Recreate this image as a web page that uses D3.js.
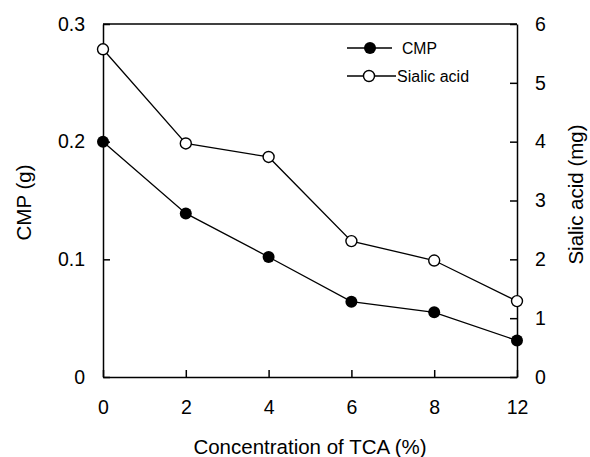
<!DOCTYPE html>
<html>
<head>
<meta charset="utf-8">
<script src="https://cdn.jsdelivr.net/npm/d3@7"></script>
<style>
  body { margin: 0; background: #fff; }
  svg { display: block; font-family: "Liberation Sans", Arial, sans-serif; }
  .axis path, .axis line { stroke: #000; stroke-width: 1.5; }
  .axis text { font-size: 19.5px; fill: #000; }
</style>
</head>
<body>
<div id="chart"></div>
<script>
// data
const categories = ['0', '2', '4', '6', '8', '12'];
const cmpValues = [0.200, 0.139, 0.102, 0.064, 0.055, 0.031];
const sialicValues = [5.57, 3.97, 3.74, 2.31, 1.98, 1.29];
const leftTicks = [0, 0.1, 0.2, 0.3];
const rightTicks = [0, 1, 2, 3, 4, 5, 6];

const width = 590, height = 457;
const margin = { top: 24, right: 73, bottom: 80, left: 103 };
const innerW = width - margin.left - margin.right;
const innerH = height - margin.top - margin.bottom;

const svg = d3.select('#chart').append('svg')
    .attr('width', width)
    .attr('height', height);

const g = svg.append('g').attr('transform', `translate(${margin.left},${margin.top})`);

const x = d3.scalePoint().domain(categories).range([0, innerW]);
const yLeft = d3.scaleLinear().domain([0, 0.3]).range([innerH, 0]);
const yRight = d3.scaleLinear().domain([0, 6]).range([innerH, 0]);

// axes, ticks pointing inward
g.append('g')
    .attr('class', 'axis')
    .call(d3.axisLeft(yLeft).tickValues(leftTicks).tickFormat(d3.format('.1~f'))
        .tickSizeInner(-7).tickSizeOuter(0).tickPadding(18));

g.append('g')
    .attr('class', 'axis')
    .attr('transform', `translate(${innerW},0)`)
    .call(d3.axisRight(yRight).tickValues(rightTicks).tickFormat(d3.format('d'))
        .tickSizeInner(-7).tickSizeOuter(0).tickPadding(18));

g.append('g')
    .attr('class', 'axis')
    .attr('transform', `translate(0,${innerH})`)
    .call(d3.axisBottom(x).tickSizeInner(-7).tickSizeOuter(0).tickPadding(23));

// top border
g.append('line')
    .attr('x1', 0).attr('x2', innerW)
    .attr('y1', 0).attr('y2', 0)
    .attr('stroke', '#000').attr('stroke-width', 1.5);

// axis titles
svg.append('text')
    .attr('x', margin.left + innerW / 2)
    .attr('y', 454)
    .attr('text-anchor', 'middle')
    .attr('font-size', '20.5px')
    .text('Concentration of TCA (%)');

svg.append('text')
    .attr('transform', `translate(31,${margin.top + innerH / 2 + 2}) rotate(-90)`)
    .attr('text-anchor', 'middle')
    .attr('font-size', '20.5px')
    .text('CMP (g)');

svg.append('text')
    .attr('transform', `translate(583,${margin.top + innerH / 2 - 6}) rotate(-90)`)
    .attr('text-anchor', 'middle')
    .attr('font-size', '20.5px')
    .text('Sialic acid (mg)');

// series
const lineCmp = d3.line().x((d, i) => x(categories[i])).y(d => yLeft(d));
const lineSialic = d3.line().x((d, i) => x(categories[i])).y(d => yRight(d));

g.append('path')
    .datum(sialicValues)
    .attr('d', lineSialic)
    .attr('fill', 'none')
    .attr('stroke', '#000')
    .attr('stroke-width', 1.3);

g.append('path')
    .datum(cmpValues)
    .attr('d', lineCmp)
    .attr('fill', 'none')
    .attr('stroke', '#000')
    .attr('stroke-width', 1.3);

g.selectAll('.pt-sialic')
    .data(sialicValues)
    .enter().append('circle')
    .attr('class', 'pt-sialic')
    .attr('cx', (d, i) => x(categories[i]))
    .attr('cy', d => yRight(d))
    .attr('r', 5.5)
    .attr('fill', '#fff')
    .attr('stroke', '#000')
    .attr('stroke-width', 1.4);

g.selectAll('.pt-cmp')
    .data(cmpValues)
    .enter().append('circle')
    .attr('class', 'pt-cmp')
    .attr('cx', (d, i) => x(categories[i]))
    .attr('cy', d => yLeft(d))
    .attr('r', 6)
    .attr('fill', '#000');

// legend
const legend = svg.append('g').attr('font-size', '16px');

legend.append('line')
    .attr('x1', 347).attr('x2', 392).attr('y1', 48).attr('y2', 48)
    .attr('stroke', '#000').attr('stroke-width', 1.5);
legend.append('circle')
    .attr('cx', 370).attr('cy', 48).attr('r', 6).attr('fill', '#000');
legend.append('text')
    .attr('x', 402).attr('y', 54)
    .attr('textLength', 35).attr('lengthAdjust', 'spacingAndGlyphs')
    .text('CMP');

legend.append('line')
    .attr('x1', 347).attr('x2', 396).attr('y1', 76).attr('y2', 76)
    .attr('stroke', '#000').attr('stroke-width', 1.3);
legend.append('circle')
    .attr('cx', 369).attr('cy', 76).attr('r', 5.5)
    .attr('fill', '#fff').attr('stroke', '#000').attr('stroke-width', 1.4);
legend.append('text')
    .attr('x', 397).attr('y', 82)
    .text('Sialic acid');
</script>
</body>
</html>
